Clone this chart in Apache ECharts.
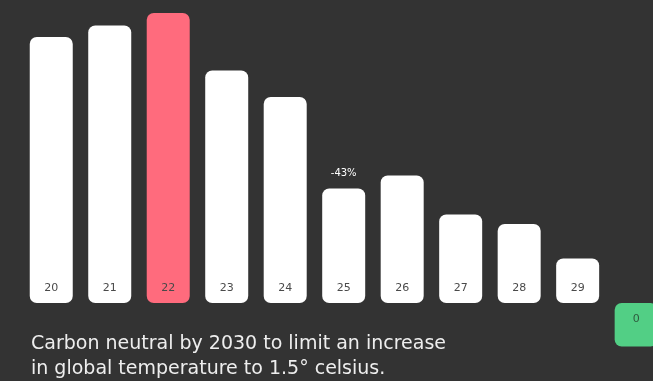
<!DOCTYPE html>
<html>
<head>
<meta charset="utf-8">
<script src="https://cdn.jsdelivr.net/npm/echarts@6/dist/echarts.min.js"></script>
<style>
  html, body { margin: 0; padding: 0; background: #333333; }
  #chart { width: 653px; height: 381px; }
</style>
</head>
<body>
<div id="chart"></div>
<script>
// years (20xx) and emissions per year
var years = ['20', '21', '22', '23', '24', '25', '26', '27', '28', '29'];
var emissions = [53.2, 55.5, 58, 46.5, 41.2, 22.9, 25.5, 17.7, 15.8, 8.9];
var highlightYear = '22';
var dropYear = '25';
var dropLabel = '-43%';
// 2030 target box (drawn below the baseline, right after 2029), label shows the target
var targetSlot = 10;
var targetBox = -8.7;
var targetLabel = '0';
var caption = 'Carbon neutral by 2030 to limit an increase\nin global temperature to 1.5° celsius.';

var chart = echarts.init(document.getElementById('chart'));

var barData = emissions.map(function (v, i) {
    var item = { value: [i, v] };
    if (years[i] === highlightYear) {
        item.itemStyle = { color: '#ff6b7d' };
    }
    return item;
});

chart.setOption({
    backgroundColor: '#333333',
    animation: false,
    title: {
        text: caption,
        left: 26,
        top: 327,
        textStyle: {
            color: '#eeeeee',
            fontFamily: 'DejaVu Sans',
            fontWeight: 'normal',
            fontSize: 19,
            lineHeight: 25
        }
    },
    grid: { left: 22, right: 0, top: 13, bottom: 33 },
    xAxis: {
        type: 'value',
        min: -0.5,
        max: 10.288,
        show: false,
        splitLine: { show: false }
    },
    yAxis: {
        type: 'value',
        min: -9,
        max: 58,
        show: false,
        splitLine: { show: false }
    },
    series: [
        {
            name: 'emissions',
            type: 'bar',
            barWidth: 43,
            data: barData,
            itemStyle: { color: '#ffffff', borderRadius: 7 },
            label: {
                show: true,
                position: 'insideBottom',
                distance: 9,
                color: '#4a4a4a',
                fontFamily: 'DejaVu Sans',
                fontSize: 11,
                formatter: function (p) { return years[p.dataIndex]; }
            },
            markPoint: {
                symbol: 'rect',
                symbolSize: 1,
                itemStyle: { color: 'rgba(0,0,0,0)' },
                label: {
                    show: true,
                    position: 'top',
                    distance: 10,
                    color: '#ffffff',
                    fontFamily: 'DejaVu Sans',
                    fontSize: 10,
                    formatter: dropLabel
                },
                data: [{ coord: [years.indexOf(dropYear), emissions[years.indexOf(dropYear)]] }]
            }
        },
        {
            name: 'target',
            type: 'bar',
            barWidth: 43,
            barGap: '-100%',
            data: [[targetSlot, targetBox]],
            itemStyle: { color: '#52cf85', borderRadius: 7 },
            label: {
                show: true,
                position: 'insideTop',
                distance: 11,
                color: '#2f5a3e',
                fontFamily: 'DejaVu Sans',
                fontSize: 11,
                formatter: targetLabel
            }
        }
    ]
});
</script>
</body>
</html>
